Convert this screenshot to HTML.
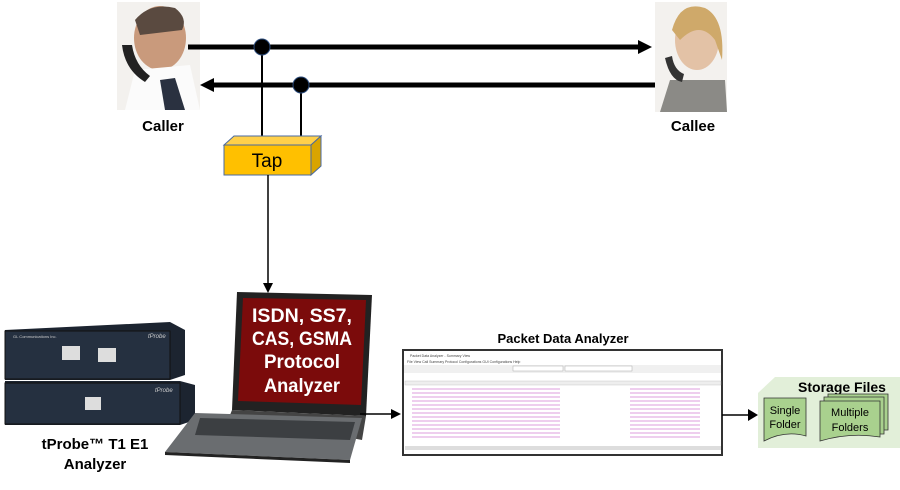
<!DOCTYPE html>
<html><head><meta charset="utf-8"><style>
body{margin:0;background:#fff;width:900px;height:485px;overflow:hidden;font-family:"Liberation Sans",sans-serif}
</style></head><body>
<svg width="900" height="485" viewBox="0 0 900 485" xmlns="http://www.w3.org/2000/svg" font-family="Liberation Sans, sans-serif">
<rect x="117" y="2" width="83" height="108" fill="#f3f1ee"/>
<ellipse cx="160" cy="38" rx="26" ry="32" fill="#c99a7c"/>
<path d="M135 20 Q150 2 175 8 Q188 18 182 30 L140 35Z" fill="#5a4a40"/>
<path d="M125 110 L135 70 L190 65 L200 110Z" fill="#fbfbfb"/>
<path d="M160 80 L175 78 L185 110 L165 110Z" fill="#2a3140"/>
<path d="M122 45 Q125 70 145 82 L150 76 Q135 65 132 45Z" fill="#222"/>
<text x="163" y="131" font-size="15" font-weight="bold" text-anchor="middle">Caller</text>
<rect x="655" y="2" width="72" height="110" fill="#f3f1ee"/>
<ellipse cx="697" cy="40" rx="22" ry="30" fill="#e3c2a6"/>
<path d="M672 30 Q680 0 705 8 Q725 18 722 60 L715 40 Q700 20 680 40Z" fill="#cfa96a"/>
<path d="M660 112 L670 80 L725 80 L727 112Z" fill="#8b8a86"/>
<path d="M665 58 Q670 80 682 82 L684 74 Q674 70 672 56Z" fill="#333"/>
<text x="693" y="131" font-size="15" font-weight="bold" text-anchor="middle">Callee</text>
<line x1="188" y1="47" x2="640" y2="47" stroke="#000" stroke-width="5"/>
<polygon points="638,40 652,47 638,54" fill="#000"/>
<line x1="212" y1="85" x2="655" y2="85" stroke="#000" stroke-width="5"/>
<polygon points="214,78 200,85 214,92" fill="#000"/>
<line x1="262" y1="47" x2="262" y2="137" stroke="#000" stroke-width="2"/>
<line x1="301" y1="85" x2="301" y2="137" stroke="#000" stroke-width="2"/>
<circle cx="262" cy="47" r="8" fill="#000" stroke="#2a4a7a"/>
<circle cx="301" cy="85" r="8" fill="#000" stroke="#2a4a7a"/>
<polygon points="224,145 234,136 321,136 311,145" fill="#ffd04a" stroke="#4a6aa0"/>
<polygon points="311,145 321,136 321,166 311,175" fill="#d9a400" stroke="#4a6aa0"/>
<rect x="224" y="145" width="87" height="30" fill="#ffc000" stroke="#4a6aa0"/>
<text x="267" y="167" font-size="19" text-anchor="middle">Tap</text>
<line x1="268" y1="175" x2="268" y2="284" stroke="#000" stroke-width="1.5"/>
<polygon points="263,283 268,293 273,283" fill="#000"/>
<polygon points="5,330 170,322 185,330 185,375 170,380 5,380" fill="#1c2430"/>
<rect x="5" y="331" width="165" height="48" fill="#253040" stroke="#111"/>
<rect x="62" y="346" width="18" height="14" fill="#ddd"/><rect x="98" y="348" width="18" height="14" fill="#ddd"/>
<text x="13" y="338" font-size="4" fill="#ccc">GL Communications Inc.</text>
<text x="148" y="338" font-size="6" fill="#ccc" font-style="italic">tProbe</text>
<polygon points="5,381 180,381 195,385 195,420 180,425 5,425" fill="#1c2430"/>
<rect x="5" y="383" width="175" height="41" fill="#253040" stroke="#111"/>
<rect x="85" y="397" width="16" height="13" fill="#ddd"/>
<text x="155" y="392" font-size="6" fill="#ccc" font-style="italic">tProbe</text>
<text x="95" y="449" font-size="15" font-weight="bold" text-anchor="middle">tProbe™ T1 E1</text>
<text x="95" y="469" font-size="15" font-weight="bold" text-anchor="middle">Analyzer</text>
<polygon points="237,292 372,295 366,416 232,410" fill="#222"/>
<polygon points="243,298 366,300 361,405 238,401" fill="#7b0b0b"/>
<polygon points="232,410 366,416 362,440 230,415" fill="#444"/>
<polygon points="195,413 362,418 350,460 165,452" fill="#6a6d70"/>
<polygon points="200,418 355,422 350,440 195,435" fill="#3c3f42"/>
<polygon points="165,452 350,460 350,463 165,455" fill="#222"/>
<g font-size="19" font-weight="bold" fill="#fff" text-anchor="middle">
<text x="302" y="322" textLength="100" lengthAdjust="spacingAndGlyphs">ISDN, SS7,</text>
<text x="302" y="345" textLength="100" lengthAdjust="spacingAndGlyphs">CAS, GSMA</text>
<text x="302" y="368" textLength="76" lengthAdjust="spacingAndGlyphs">Protocol</text>
<text x="302" y="392" textLength="76" lengthAdjust="spacingAndGlyphs">Analyzer</text></g>
<line x1="360" y1="414" x2="392" y2="414" stroke="#000" stroke-width="1.5"/>
<polygon points="391,409 401,414 391,419" fill="#000"/>
<text x="563" y="343" font-size="13" font-weight="bold" text-anchor="middle">Packet Data Analyzer</text>
<rect x="403" y="350" width="319" height="105" fill="#fff" stroke="#333" stroke-width="2"/>
<text x="410" y="357" font-size="3.5" fill="#444">Packet Data Analyzer - Summary View</text>
<text x="407" y="363" font-size="3.5" fill="#444">File  View  Call Summary  Protocol Configurations  GUI Configurations  Help</text>
<rect x="404" y="365" width="317" height="8" fill="#f0f0f0"/>
<rect x="513" y="366" width="50" height="5" fill="#fff" stroke="#999" stroke-width=".4"/>
<rect x="565" y="366" width="67" height="5" fill="#fff" stroke="#999" stroke-width=".4"/>
<rect x="405" y="381" width="316" height="4" fill="#eee" stroke="#aaa" stroke-width=".3"/>
<g stroke="#e4b0e4" stroke-width="1.2">
<line x1="412" y1="389" x2="560" y2="389"/><line x1="412" y1="393" x2="560" y2="393"/><line x1="412" y1="397" x2="560" y2="397"/><line x1="412" y1="401" x2="560" y2="401"/><line x1="412" y1="405" x2="560" y2="405"/><line x1="412" y1="409" x2="560" y2="409"/><line x1="412" y1="413" x2="560" y2="413"/><line x1="412" y1="417" x2="560" y2="417"/><line x1="412" y1="421" x2="560" y2="421"/><line x1="412" y1="425" x2="560" y2="425"/><line x1="412" y1="429" x2="560" y2="429"/><line x1="412" y1="433" x2="560" y2="433"/><line x1="412" y1="437" x2="560" y2="437"/>
<line x1="630" y1="389" x2="700" y2="389"/><line x1="630" y1="393" x2="700" y2="393"/><line x1="630" y1="397" x2="700" y2="397"/><line x1="630" y1="401" x2="700" y2="401"/><line x1="630" y1="405" x2="700" y2="405"/><line x1="630" y1="409" x2="700" y2="409"/><line x1="630" y1="413" x2="700" y2="413"/><line x1="630" y1="417" x2="700" y2="417"/><line x1="630" y1="421" x2="700" y2="421"/><line x1="630" y1="425" x2="700" y2="425"/><line x1="630" y1="429" x2="700" y2="429"/><line x1="630" y1="433" x2="700" y2="433"/><line x1="630" y1="437" x2="700" y2="437"/>
</g>
<rect x="405" y="446" width="316" height="4" fill="#ddd"/>
<line x1="722" y1="415" x2="750" y2="415" stroke="#000" stroke-width="1.5"/>
<polygon points="748,409 758,415 748,421" fill="#000"/>
<polygon points="758,393 775,377 900,377 900,448 758,448" fill="#e2efd9"/>
<text x="842" y="392" font-size="14" font-weight="bold" text-anchor="middle">Storage Files</text>
<path d="M764 398 H806 V436 Q785 430 764 441Z" fill="#a9d18e" stroke="#333" stroke-width=".8"/>
<text x="785" y="414" font-size="11" text-anchor="middle">Single</text>
<text x="785" y="428" font-size="11" text-anchor="middle">Folder</text>
<path d="M828 394 H888 V430 H828Z" fill="#a9d18e" stroke="#333" stroke-width=".8"/>
<path d="M824 397 H884 V434 H824Z" fill="#a9d18e" stroke="#333" stroke-width=".8"/>
<path d="M820 401 H880 V437 Q850 432 820 441Z" fill="#a9d18e" stroke="#333" stroke-width=".8"/>
<text x="850" y="416" font-size="11" text-anchor="middle">Multiple</text>
<text x="850" y="431" font-size="11" text-anchor="middle">Folders</text>
</svg>
</body></html>
